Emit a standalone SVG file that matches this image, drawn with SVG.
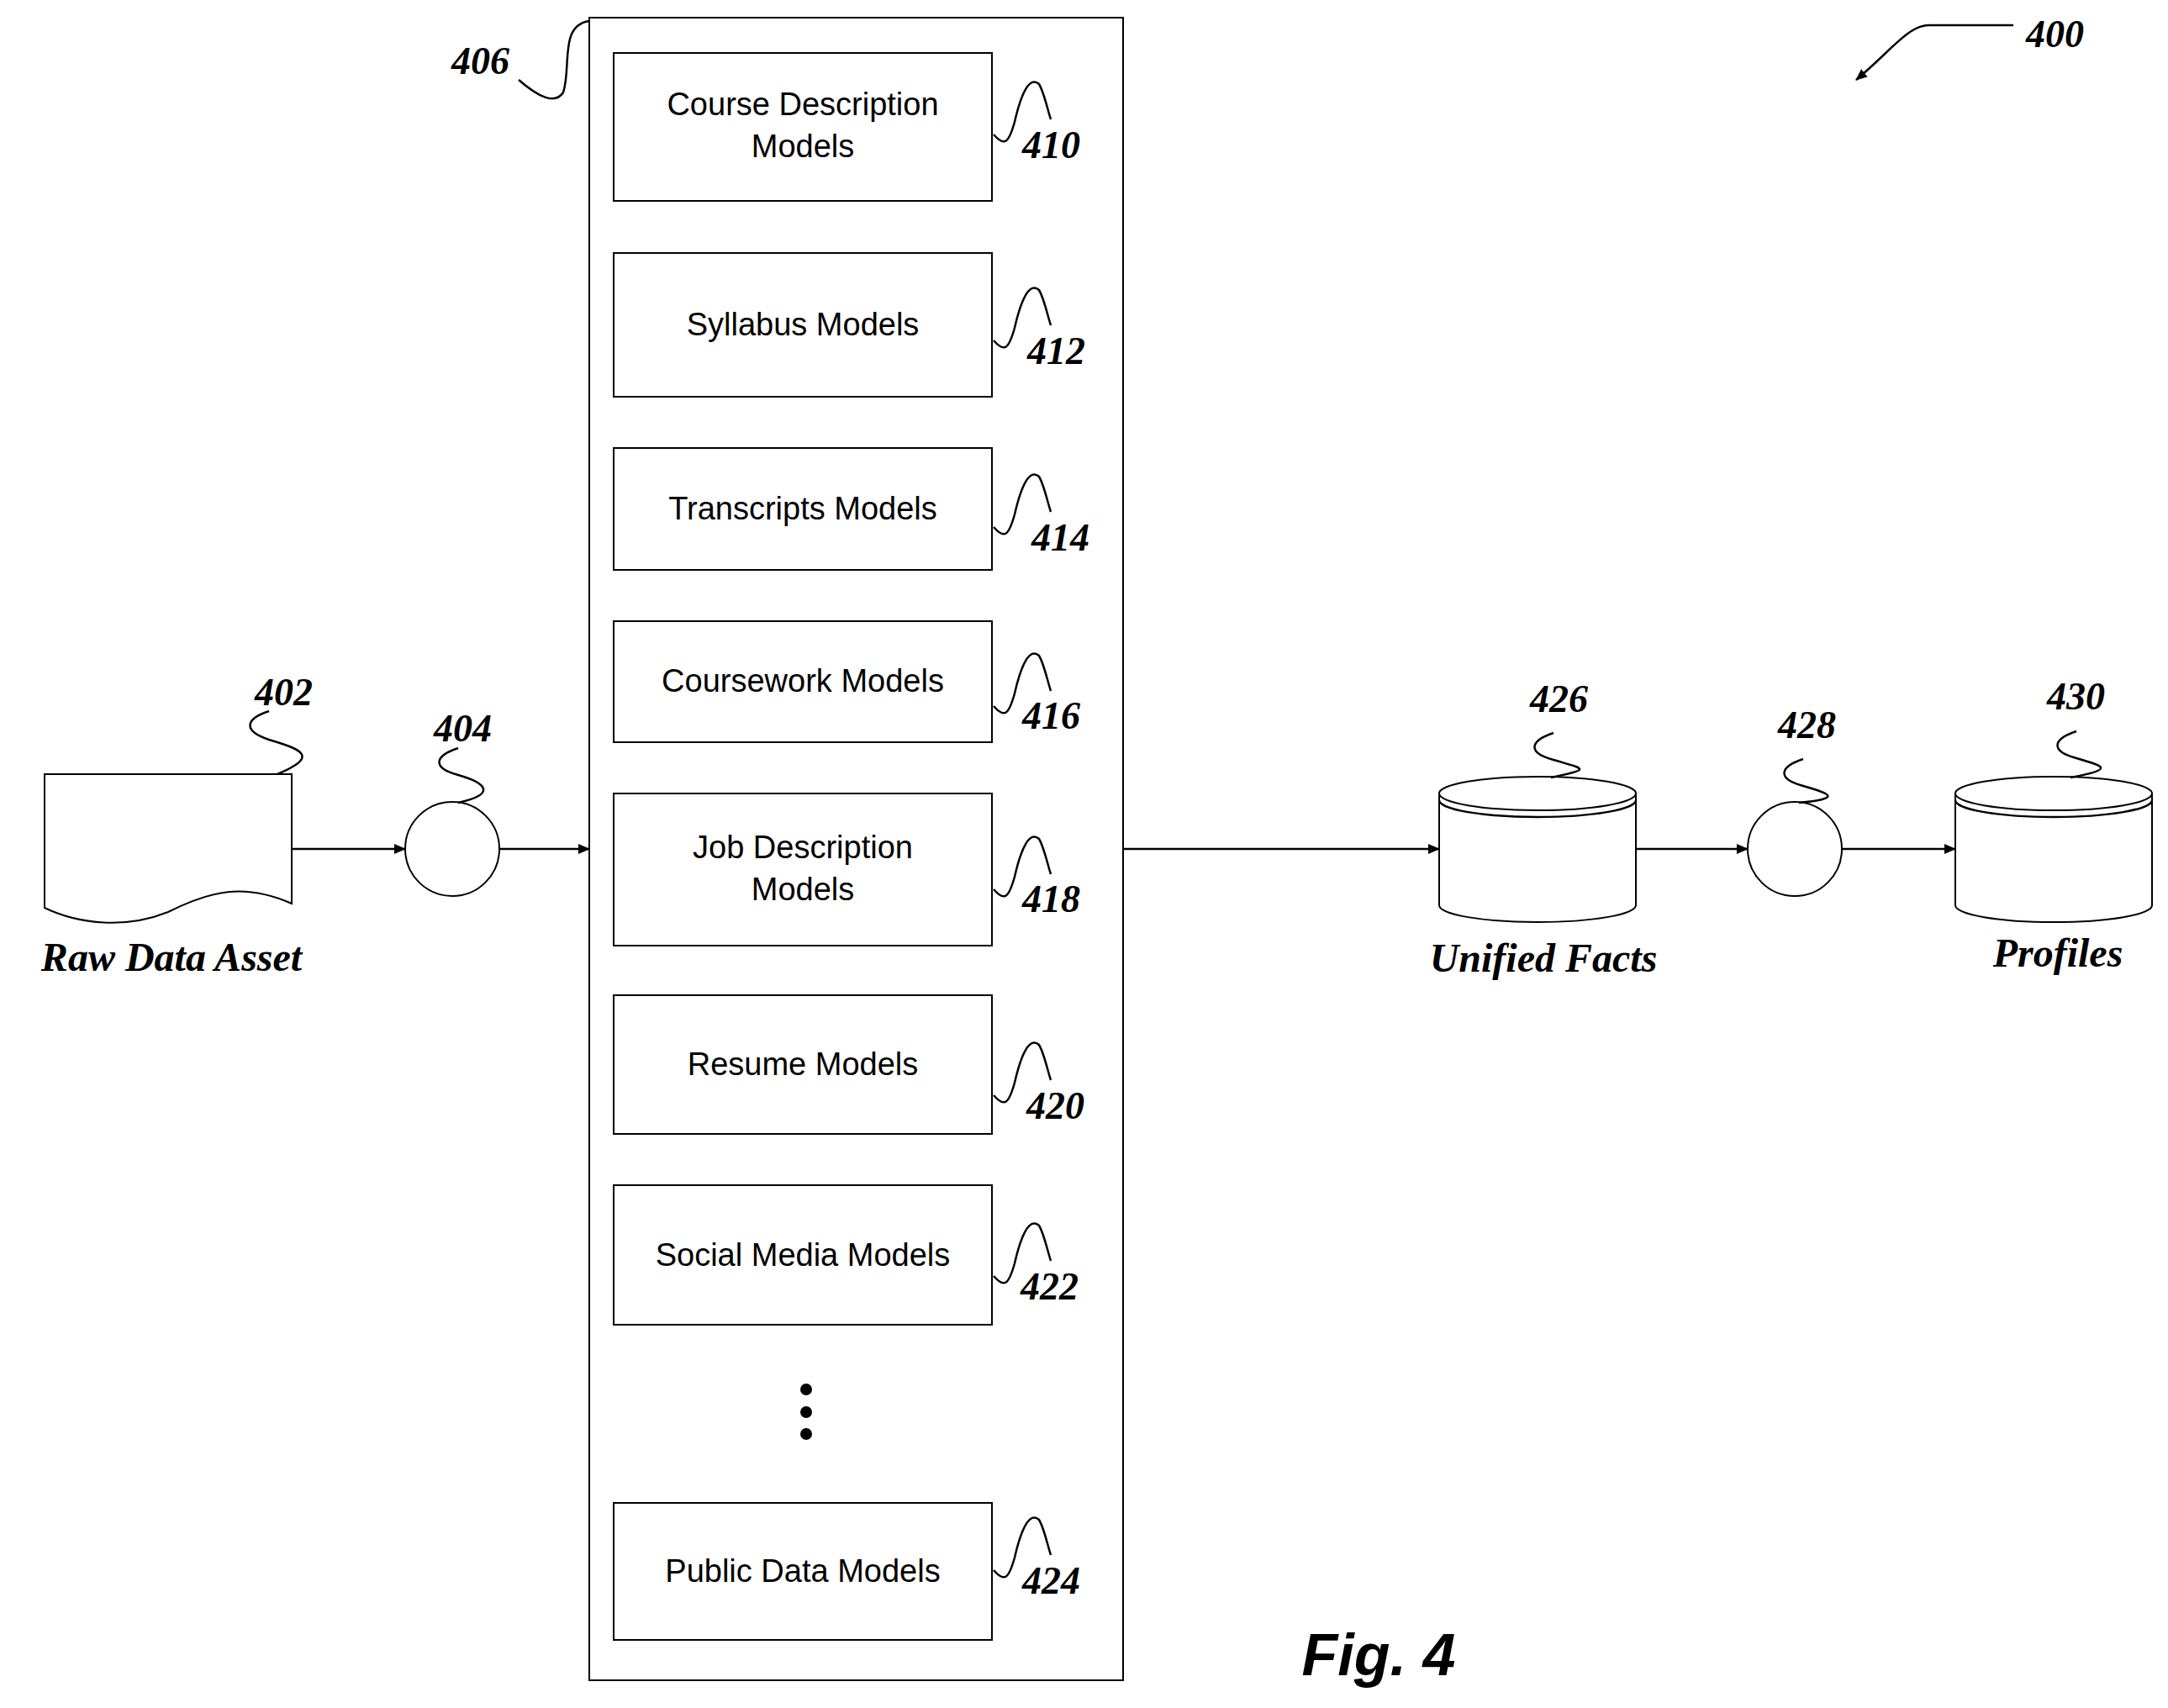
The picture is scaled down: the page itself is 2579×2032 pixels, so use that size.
<svg xmlns="http://www.w3.org/2000/svg" width="2579" height="2032" viewBox="0 0 2579 2032">
<style>
.b{fill:#fff;stroke:#000;stroke-width:2}
.t{font-family:"Liberation Sans",Arial,sans-serif;font-size:38px;text-anchor:middle}
.n{font-family:"Liberation Serif","Times New Roman",serif;font-size:46px;font-style:italic;font-weight:bold}
.l{font-family:"Liberation Serif","Times New Roman",serif;font-size:48px;font-style:italic;font-weight:bold;text-anchor:middle}
.s{fill:none;stroke:#000;stroke-width:2.5}
.c{stroke:#000;stroke-width:2.5;fill:none}
</style>
<defs><marker id="a" markerWidth="14" markerHeight="12" refX="13" refY="6" orient="auto" markerUnits="userSpaceOnUse"><path d="M0,0L14,6L0,12z"/></marker></defs>
<rect id="n406" class="b" x="701" y="21" width="635" height="1978"/>
<g id="n410"><rect class="b" x="730" y="63" width="450" height="176"/><text class="t" x="955" y="137">Course Description</text><text class="t" x="955" y="187">Models</text></g>
<g id="n412"><rect class="b" x="730" y="301" width="450" height="171"/><text class="t" x="955" y="399">Syllabus Models</text></g>
<g id="n414"><rect class="b" x="730" y="533" width="450" height="145"/><text class="t" x="955" y="618">Transcripts Models</text></g>
<g id="n416"><rect class="b" x="730" y="739" width="450" height="144"/><text class="t" x="955" y="823">Coursework Models</text></g>
<g id="n418"><rect class="b" x="730" y="944" width="450" height="181"/><text class="t" x="955" y="1021">Job Description</text><text class="t" x="955" y="1071">Models</text></g>
<g id="n420"><rect class="b" x="730" y="1184" width="450" height="165"/><text class="t" x="955" y="1279">Resume Models</text></g>
<g id="n422"><rect class="b" x="730" y="1410" width="450" height="166"/><text class="t" x="955" y="1506">Social Media Models</text></g>
<g id="dots"><circle cx="959" cy="1653" r="7"/><circle cx="959" cy="1680" r="7"/><circle cx="959" cy="1706" r="7"/></g>
<g id="n424"><rect class="b" x="730" y="1788" width="450" height="163"/><text class="t" x="955" y="1882">Public Data Models</text></g>
<g id="n402"><path class="b" d="M53,921H347V1075C290,1050 250,1060 200,1085C150,1105 95,1100 53,1080Z"/><text class="l" x="204" y="1155">Raw Data Asset</text></g>
<g id="n404"><circle class="b" cx="538" cy="1010" r="56"/></g>
<g id="n426"><path class="b" d="M1712,944V1077A117,20 0 0 0 1946,1077V944"/><ellipse class="b" cx="1829" cy="944" rx="117" ry="20"/><path class="s" d="M1712,952A117,20 0 0 0 1946,952" stroke-width="1.5"/><text class="l" x="1836" y="1156">Unified Facts</text></g>
<g id="n428"><circle class="b" cx="2135" cy="1010" r="56"/></g>
<g id="n430"><path class="b" d="M2326,944V1077A117,20 0 0 0 2560,1077V944"/><ellipse class="b" cx="2443" cy="944" rx="117" ry="20"/><path class="s" d="M2326,952A117,20 0 0 0 2560,952" stroke-width="1.5"/><text class="l" x="2448" y="1150">Profiles</text></g>
<g id="connectors">
<line class="c" x1="347" y1="1010" x2="482" y2="1010" marker-end="url(#a)"/>
<line class="c" x1="594" y1="1010" x2="701" y2="1010" marker-end="url(#a)"/>
<line class="c" x1="1336" y1="1010" x2="1712" y2="1010" marker-end="url(#a)"/>
<line class="c" x1="1946" y1="1010" x2="2079" y2="1010" marker-end="url(#a)"/>
<line class="c" x1="2191" y1="1010" x2="2326" y2="1010" marker-end="url(#a)"/>
<path class="c" d="M2395,30H2295C2270,30 2250,60 2208,95" marker-end="url(#a)"/>
</g>
<g id="labels">
<text class="n" x="2410" y="56">400</text>
<text class="n" x="537" y="88">406</text>
<path class="s" d="M617,95C640,115 660,125 670,110C680,80 665,30 701,25"/>
<g class="s">
<path d="M1182,160C1195,175 1200,170 1207,145C1215,110 1225,90 1236,100C1242,110 1246,130 1250,142"/>
<path d="M1182,405C1195,420 1200,415 1207,390C1215,355 1225,335 1236,345C1242,355 1246,375 1250,387"/>
<path d="M1182,627C1195,642 1200,637 1207,612C1215,577 1225,557 1236,567C1242,577 1246,597 1250,609"/>
<path d="M1182,840C1195,855 1200,850 1207,825C1215,790 1225,770 1236,780C1242,790 1246,810 1250,822"/>
<path d="M1182,1058C1195,1073 1200,1068 1207,1043C1215,1008 1225,988 1236,998C1242,1008 1246,1028 1250,1040"/>
<path d="M1182,1303C1195,1318 1200,1313 1207,1288C1215,1253 1225,1233 1236,1243C1242,1253 1246,1273 1250,1285"/>
<path d="M1182,1518C1195,1533 1200,1528 1207,1503C1215,1468 1225,1448 1236,1458C1242,1468 1246,1488 1250,1500"/>
<path d="M1182,1868C1195,1883 1200,1878 1207,1853C1215,1818 1225,1798 1236,1808C1242,1818 1246,1838 1250,1850"/>
<path d="M320,846C290,856 290,870 320,880C360,892 380,900 330,921"/>
<path d="M545,890C515,900 515,914 545,922C580,932 590,945 545,955"/>
<path d="M1848,872C1818,882 1818,896 1848,904C1885,915 1895,915 1845,925"/>
<path d="M2145,903C2115,913 2115,927 2145,935C2180,945 2190,950 2140,955"/>
<path d="M2470,870C2440,880 2440,894 2470,902C2505,912 2515,915 2463,925"/>
</g>
<text class="n" x="1216" y="188">410</text>
<text class="n" x="1222" y="433">412</text>
<text class="n" x="1227" y="655">414</text>
<text class="n" x="1216" y="867">416</text>
<text class="n" x="1216" y="1085">418</text>
<text class="n" x="1221" y="1331">420</text>
<text class="n" x="1214" y="1546">422</text>
<text class="n" x="1216" y="1896">424</text>
<text class="n" x="303" y="839">402</text>
<text class="n" x="516" y="882">404</text>
<text class="n" x="1820" y="847">426</text>
<text class="n" x="2115" y="878">428</text>
<text class="n" x="2435" y="844">430</text>
</g>
<text x="1640" y="1993" style="font-family:'Liberation Sans',Arial,sans-serif;font-size:70px;font-style:italic;font-weight:bold;text-anchor:middle">Fig. 4</text>
</svg>
